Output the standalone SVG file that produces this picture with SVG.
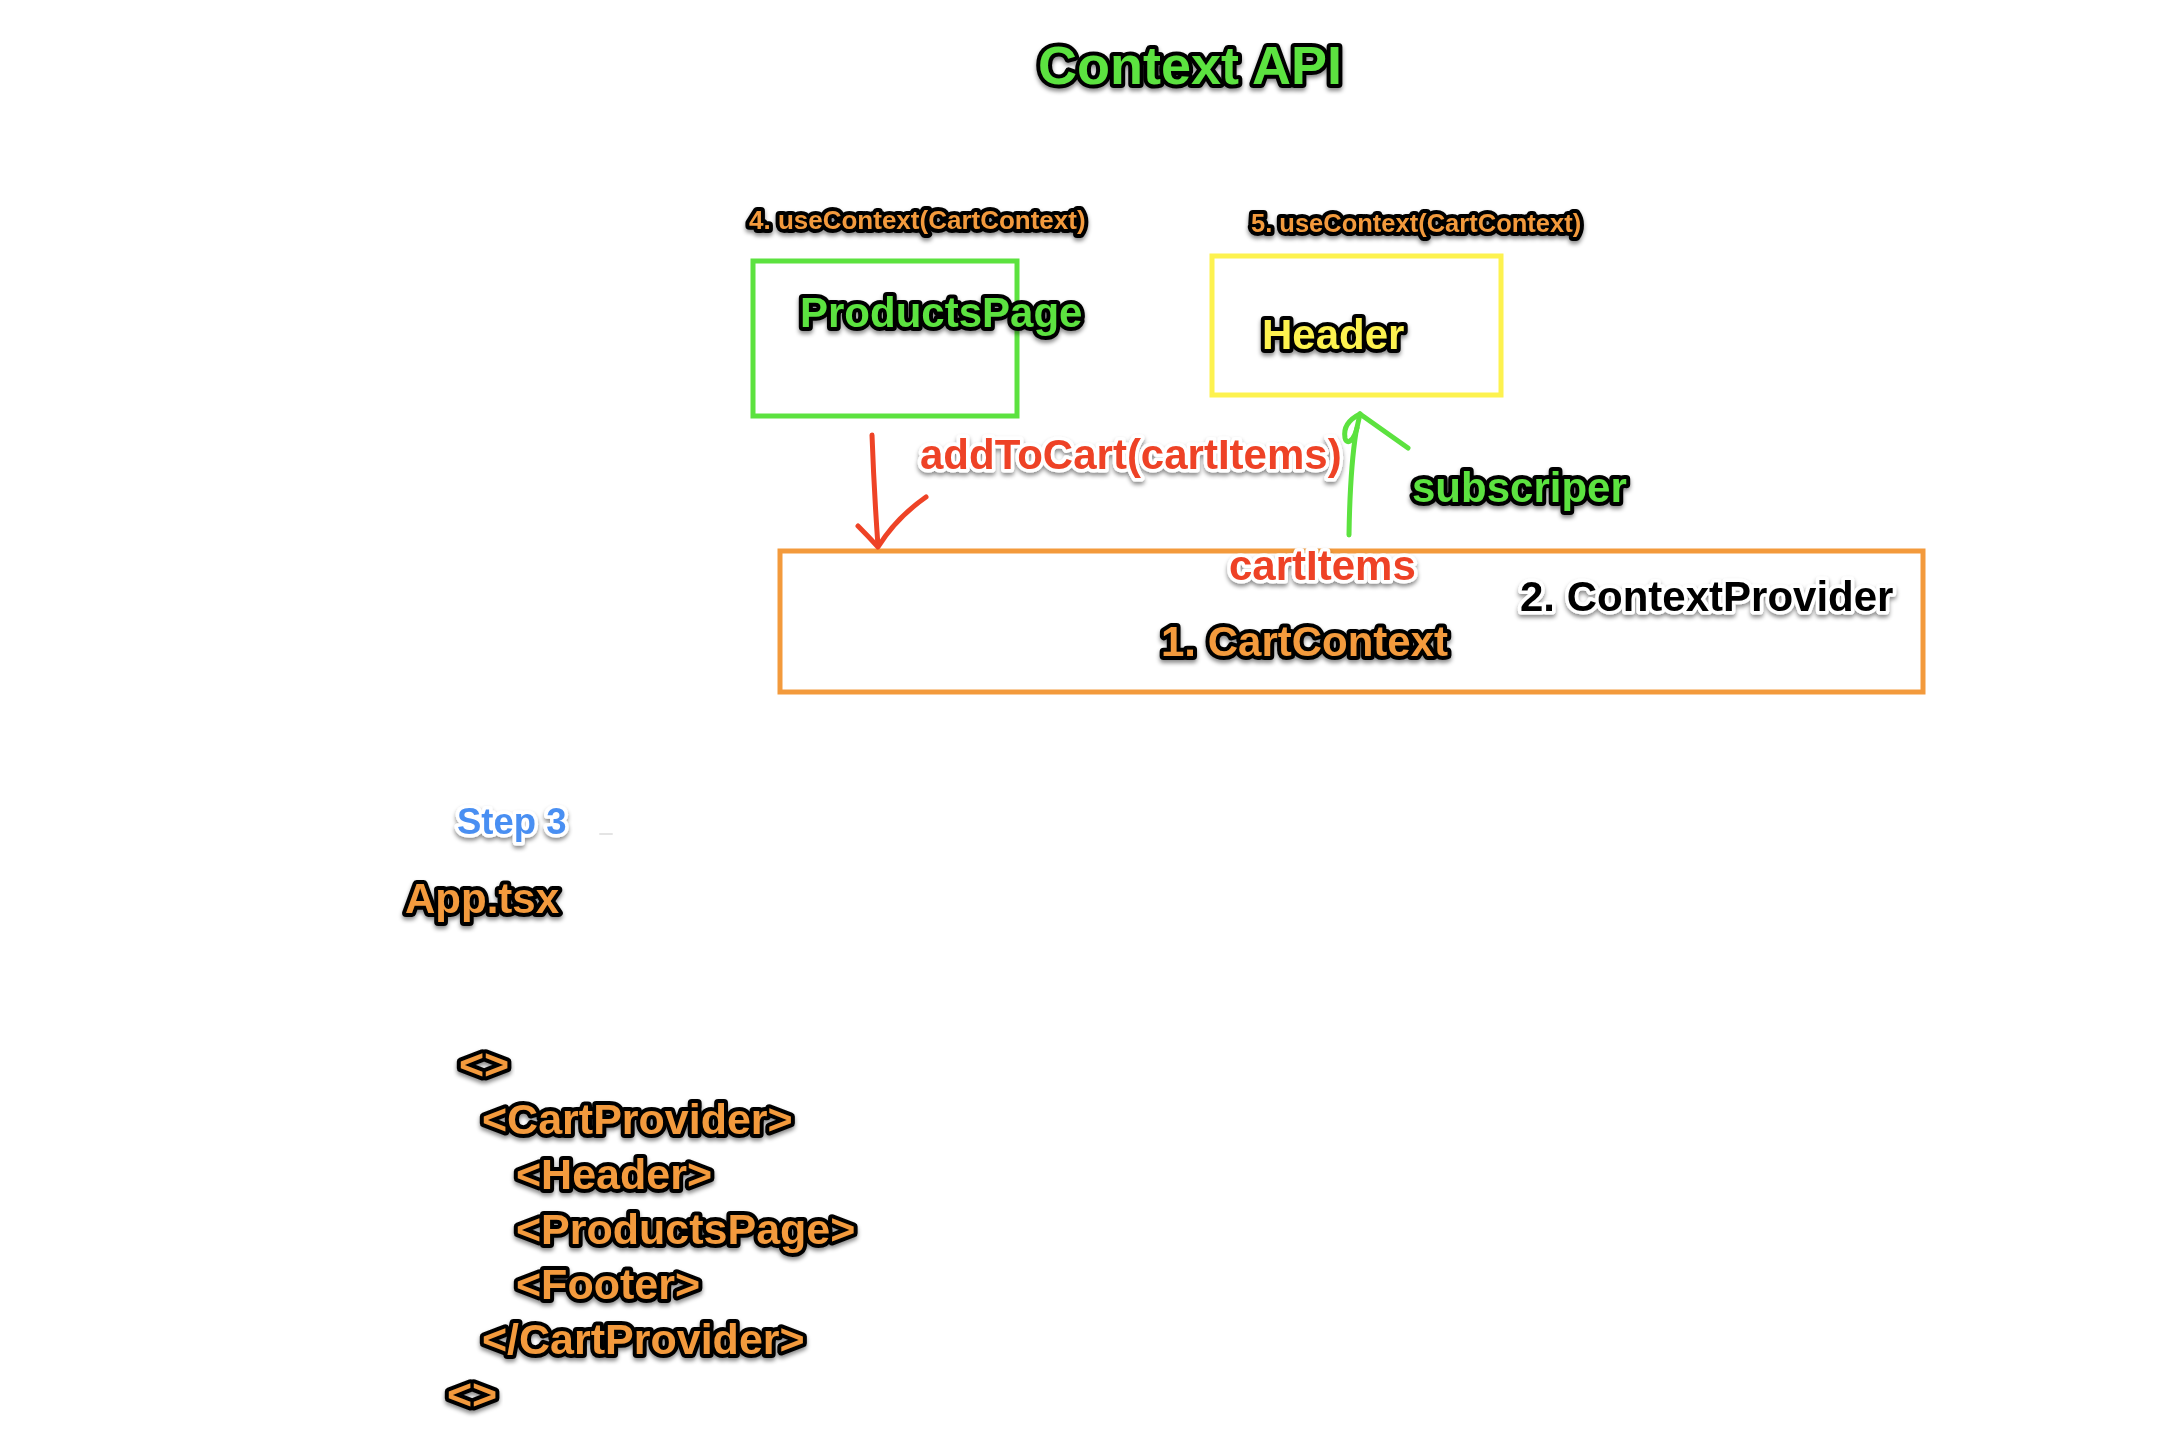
<svg xmlns="http://www.w3.org/2000/svg" width="2174" height="1436" viewBox="0 0 2174 1436">
<defs>
<filter id="sh" x="-10%" y="-30%" width="120%" height="170%">
<feDropShadow dx="0" dy="3" stdDeviation="2" flood-color="#000" flood-opacity="0.45"/>
</filter>
<style>
text{font-family:"Liberation Sans",Arial,Helvetica,sans-serif;font-weight:bold;}
.bo{stroke:#000;stroke-width:8;stroke-linejoin:round;paint-order:stroke fill;filter:url(#sh);}
.wo{stroke:#fff;stroke-width:7;stroke-linejoin:round;paint-order:stroke fill;filter:url(#sh);}
.green{fill:#5CE23F;}
.orange{fill:#F39A3C;}
.yellow{fill:#FDF24F;}
.red{fill:#EE4326;}
.blue{fill:#4A8FF2;}
.black{fill:#000;}
.box{fill:none;stroke-width:5;}
.code{font-size:43px;}
</style>
</defs>
<rect width="2174" height="1436" fill="#fff"/>

<g id="title">
<text class="bo green" x="1038" y="84" font-size="54">Context API</text>
</g>

<g id="products-page">
<text class="bo orange" x="749" y="229" font-size="26">4. useContext(CartContext)</text>
<rect class="box" x="753" y="261" width="264" height="155" stroke="#5CE23F"/>
<text class="bo green" x="800" y="327" font-size="42">ProductsPage</text>
</g>

<g id="header">
<text class="bo orange" x="1251" y="232" font-size="25.5">5. useContext(CartContext)</text>
<rect class="box" x="1212" y="256" width="289" height="139" stroke="#FDF24F"/>
<text class="bo yellow" x="1262" y="349" font-size="42">Header</text>
</g>

<g id="cart-context">
<rect class="box" x="780" y="551" width="1143" height="141" stroke="#F39A3C"/>
<text class="wo black" x="1520" y="611" font-size="42">2. ContextProvider</text>
<text class="bo orange" x="1161" y="656" font-size="42">1. CartContext</text>
</g>

<g id="connectors" fill="none" stroke-linecap="round" stroke-linejoin="round">
<g id="add-to-cart" stroke="#EE4326" stroke-width="5">
<path d="M872,435 Q874,490 878,546"/>
<path d="M858,526 Q869,537 878,547 Q896,518 926,497"/>
</g>
<g id="subscribe" stroke="#5CE23F" stroke-width="5">
<path d="M1349,535 Q1350,470 1356,432 L1360,414"/>
<path d="M1360,414 C1350,419 1343,427 1345,438 C1347,446 1354,440 1357,428"/>
<path d="M1360,414 L1408,448"/>
</g>
</g>

<g id="connector-labels">
<text class="wo red" x="920" y="469" font-size="42">addToCart(cartItems)</text>
<text class="wo red" x="1229" y="580" font-size="42">cartItems</text>
<text class="bo green" x="1412" y="502" font-size="42">subscriper</text>
</g>

<g id="step-3">
<text class="wo blue" x="457" y="834" font-size="36.5">Step 3</text>
<line x1="600" y1="834" x2="612" y2="834" stroke="#e4e4e4" stroke-width="2" stroke-linecap="round"/>
</g>

<g id="app-tsx">
<text class="bo orange" x="405" y="913" font-size="42">App.tsx</text>
</g>

<g id="code">
<text class="bo orange code" x="459" y="1079">&lt;&gt;</text>
<text class="bo orange code" x="482" y="1134">&lt;CartProvider&gt;</text>
<text class="bo orange code" x="516" y="1189">&lt;Header&gt;</text>
<text class="bo orange code" x="516" y="1244">&lt;ProductsPage&gt;</text>
<text class="bo orange code" x="516" y="1299">&lt;Footer&gt;</text>
<text class="bo orange code" x="482" y="1354">&lt;/CartProvider&gt;</text>
<text class="bo orange code" x="447" y="1409">&lt;&gt;</text>
</g>
</svg>
